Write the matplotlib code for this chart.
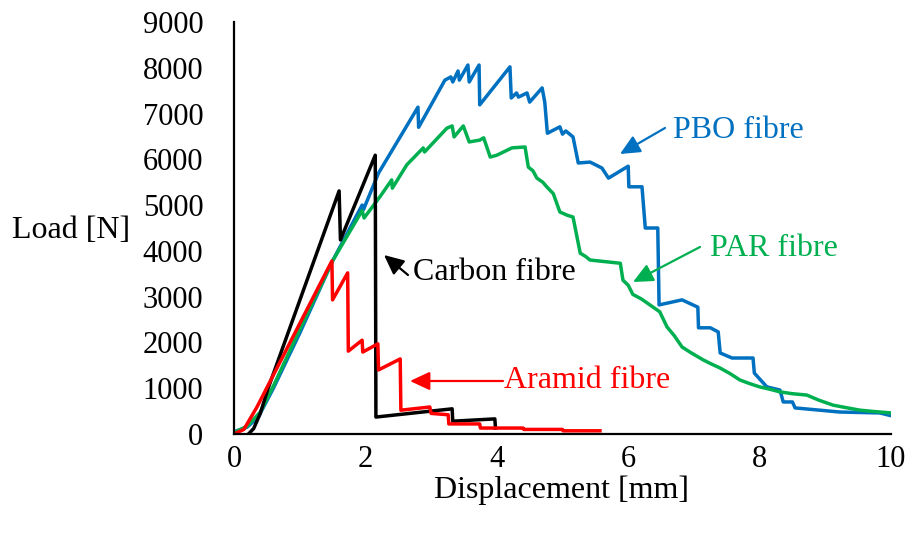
import matplotlib
matplotlib.use('Agg')
import matplotlib.pyplot as plt

plt.rcParams['font.family'] = ['Liberation Serif', 'DejaVu Serif']

# PBO fibre
pbo_x = [0, 0.2, 0.37, 0.6, 1.0, 1.5, 1.95, 1.97, 2.2, 2.5, 2.8, 2.81, 3.21, 3.3,
         3.33, 3.41, 3.43, 3.56, 3.58, 3.73, 3.74, 4.2, 4.22, 4.3, 4.33, 4.46,
         4.5, 4.69, 4.73, 4.77, 4.96, 5.0, 5.05, 5.16, 5.24, 5.42, 5.6, 5.7, 6.0,
         6.01, 6.21, 6.26, 6.45, 6.47, 6.82, 7.06, 7.07, 7.25, 7.37, 7.4, 7.58,
         7.9, 7.92, 8.11, 8.31, 8.36, 8.5, 8.54, 9.22, 9.83, 10.0]
pbo_y = [50, 150, 370, 1000, 2200, 3780, 5000, 4900, 5700, 6420, 7140, 6700, 7730,
         7800, 7690, 7930, 7730, 8060, 7690, 8060, 7190, 8020, 7340, 7450, 7360,
         7450, 7250, 7560, 7250, 6570, 6710, 6550, 6620, 6490, 5920, 5940, 5810,
         5590, 5850, 5400, 5400, 4500, 4500, 2820, 2930, 2770, 2320, 2320, 2230,
         1770, 1660, 1660, 1330, 1030, 960, 700, 700, 570, 480, 460, 400]

# PAR fibre
par_x = [0, 0.2, 0.4, 0.6, 1.0, 1.5, 1.95, 1.98, 2.22, 2.4, 2.41, 2.63, 2.88, 2.9,
         3.24, 3.32, 3.35, 3.49, 3.58, 3.74, 3.8, 3.9, 4.0, 4.23, 4.43, 4.48,
         4.55, 4.61, 4.7, 4.76, 4.86, 4.96, 5.07, 5.16, 5.27, 5.35, 5.42, 5.88,
         5.92, 6.0, 6.07, 6.2, 6.3, 6.48, 6.59, 6.7, 6.82, 6.95, 7.14, 7.25, 7.4,
         7.55, 7.7, 7.85, 8.0, 8.15, 8.31, 8.5, 8.72, 8.9, 9.12, 9.3, 9.53,
         9.75, 10.0]
par_y = [30, 170, 480, 1050, 2280, 3780, 4880, 4720, 5180, 5550, 5370, 5880, 6250,
         6160, 6680, 6730, 6490, 6730, 6380, 6420, 6470, 6050, 6090, 6250, 6270,
         5830, 5750, 5590, 5500, 5400, 5250, 4850, 4780, 4740, 3950, 3880, 3800,
         3730, 3360, 3250, 3050, 2950, 2850, 2670, 2340, 2150, 1900, 1780, 1620,
         1540, 1440, 1320, 1180, 1100, 1030, 980, 920, 880, 850, 740, 630, 580,
         520, 490, 460]

# Carbon fibre
carbon_x = [0.22, 0.3, 0.4, 0.52, 1.6, 1.62, 2.15, 2.16, 3.32, 3.33, 3.97, 3.98]
carbon_y = [0, 120, 450, 1000, 5310, 4240, 6090, 370, 550, 280, 330, 130]

# Aramid fibre
aramid_x = [0, 0.15, 0.35, 1.0, 1.49, 1.5, 1.73, 1.74, 1.95, 1.96, 2.19, 2.2, 2.53,
            2.54, 2.98, 3.0, 3.26, 3.27, 3.74, 3.75, 4.4, 4.41, 5.0, 5.01, 5.57]
aramid_y = [0, 100, 590, 2410, 3780, 2930, 3520, 1810, 2050, 1790, 1970, 1400, 1640,
            520, 590, 450, 420, 220, 220, 130, 130, 100, 100, 70, 70]

x_ticks = [0, 2, 4, 6, 8, 10]
y_ticks = list(range(0, 9001, 1000))

blue = '#0070C0'
green = '#00B050'
red = '#FF0000'

fig = plt.figure(figsize=(9.11, 5.37), dpi=100)
ax = fig.add_axes([234 / 911, 1 - 434 / 537, 657 / 911, 412 / 537])

lw = 2.5
ax.plot(pbo_x, pbo_y, color=blue, lw=lw)
ax.plot(par_x, par_y, color=green, lw=lw)
ax.plot(carbon_x, carbon_y, color='black', lw=lw)
ax.plot(aramid_x, aramid_y, color=red, lw=lw)

ax.set_xlim(0, 10)
ax.set_ylim(0, 9000)
ax.set_xticks(x_ticks)
ax.set_yticks(y_ticks)
ax.tick_params(length=0, labelsize=22)
ax.tick_params(axis='y', pad=22)
ax.tick_params(axis='x', pad=8)
for s in ['top', 'right']:
    ax.spines[s].set_visible(False)
for s in ['left', 'bottom']:
    ax.spines[s].set_linewidth(1.6)

fig.text(12 / 911, 1 - 230 / 537, 'Load [N]', fontsize=23, ha='left', va='center')
fig.text(562 / 911, 1 - 490 / 537, 'Displacement [mm]', fontsize=23,
         ha='center', va='center')


def px(x, y):
    return ((x - 234) / 65.7, (434 - y) / 412 * 9000)


def label(text, tip, tail, pos, color):
    ax.annotate('', xy=px(*tip), xytext=px(*tail),
                arrowprops=dict(arrowstyle='-|>,head_length=0.6,head_width=0.28',
                                color=color, lw=1.6, shrinkA=0, shrinkB=0,
                                mutation_scale=20))
    ax.text(*px(*pos), text, color=color, fontsize=23, ha='left', va='center')


label('PBO fibre', (620, 154), (665, 128), (673, 130), blue)
label('PAR fibre', (633, 282), (700, 247), (710, 248), green)
label('Carbon fibre', (384, 255), (408, 275), (413, 273), 'black')
label('Aramid fibre', (410, 381), (503, 381), (504, 381), red)

plt.savefig('out.png')
